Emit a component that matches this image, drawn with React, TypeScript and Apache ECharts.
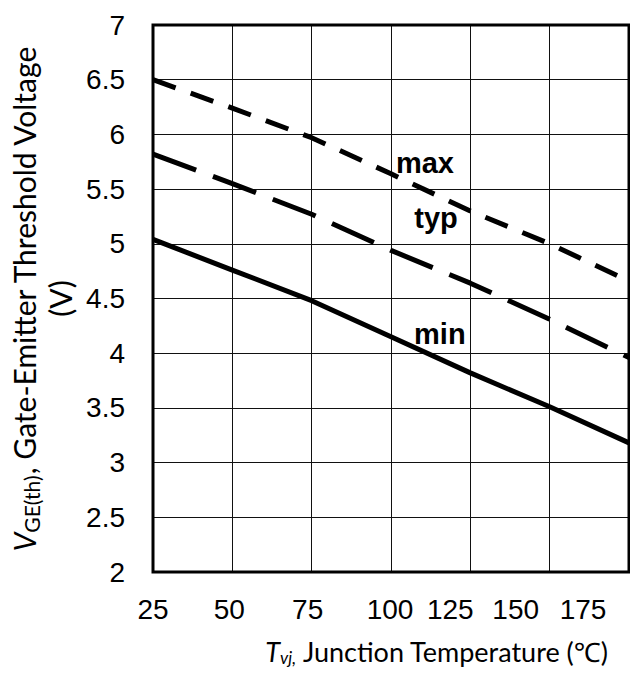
import React, { useEffect, useRef } from "react";
import * as echarts from "echarts";

// Junction temperature (°C)
const temps = [25, 50, 75, 100, 125, 150, 175];
// Gate-emitter threshold voltage (V)
const vMax = [6.5, 6.24, 5.97, 5.64, 5.3, 5.0, 4.66];
const vTyp = [5.82, 5.55, 5.27, 4.94, 4.64, 4.31, 3.96];
const vMin = [5.04, 4.76, 4.48, 4.15, 3.82, 3.51, 3.18];
const xTickLabels = ["25", "50", "75", "100", "125", "150", "175"];
const curveNames = ["max", "typ", "min"];

const X_MIN = 25, X_MAX = 175, X_STEP = 25;
const Y_MIN = 2, Y_MAX = 7, Y_STEP = 0.5;

// horizontal shift of each x tick label (px), as in the reference layout
const xLabelShift = [0, -3, -4, -1, -20, -34, -46];
// label anchors in data coordinates
const labelAnchors: Record<string, [number, number]> = {
  max: [110.7, 5.74],
  typ: [114.2, 5.24],
  min: [115.4, 4.18],
};

const TICK_FONT = "'Liberation Sans', Arial, sans-serif";
const TITLE_FONT = "Lato, 'Noto Sans', sans-serif";

export default function App() {
  const ref = useRef<HTMLDivElement>(null);
  useEffect(() => {
    if (!ref.current) return;
    const chart = echarts.init(ref.current, undefined, { renderer: "svg" });

    const rich: Record<string, any> = {};
    xTickLabels.forEach((_, i) => {
      const s = xLabelShift[i];
      rich["s" + i] = {
        fontSize: 28,
        fontFamily: TICK_FONT,
        color: "#000",
        padding: [0, s < 0 ? -2 * s : 0, 0, s > 0 ? 2 * s : 0],
      };
    });

    const mkSeries = (name: string, vals: number[], dash: any) => ({
      name,
      type: "line",
      data: temps.map((t, i) => [t, vals[i]]),
      showSymbol: false,
      symbol: "none",
      lineStyle: { color: "#000", width: 5, type: dash, cap: "butt" },
      z: 5,
      markPoint: {
        symbol: "circle",
        symbolSize: 0,
        silent: true,
        data: [
          {
            coord: labelAnchors[name],
            label: {
              show: true,
              position: "inside",
              formatter: name,
              fontSize: 29,
              fontWeight: "bold",
              fontFamily: TICK_FONT,
              color: "#000",
            },
          },
        ],
      },
    });

    chart.setOption({
      animation: false,
      backgroundColor: "#fff",
      grid: {
        left: 153,
        right: 1,
        top: 25,
        bottom: 107,
        containLabel: false,
        show: true,
        borderColor: "#000",
        borderWidth: 3,
        backgroundColor: "transparent",
        z: 10,
      },
      xAxis: {
        type: "value",
        min: X_MIN,
        max: X_MAX,
        interval: X_STEP,
        axisLine: { show: false },
        axisTick: { show: false },
        splitLine: { show: true, lineStyle: { color: "#111", width: 1 } },
        axisLabel: {
          margin: 23,
          formatter: (v: number) => {
            const i = temps.indexOf(v);
            return i >= 0 ? `{s${i}|${xTickLabels[i]}}` : "";
          },
          rich,
        },
        name: "{t|T}{s|vj,}{n| Junction Temperature (℃)}",
        nameLocation: "middle",
        nameGap: 64,
        nameTextStyle: {
          padding: [0, 0, 0, 92],
          rich: {
            t: { fontSize: 27, fontStyle: "italic", fontFamily: TITLE_FONT, color: "#000" },
            s: { fontSize: 17, fontStyle: "italic", fontFamily: TITLE_FONT, color: "#000", verticalAlign: "bottom", lineHeight: 30 },
            n: { fontSize: 27, fontFamily: TITLE_FONT, color: "#000" },
          },
        },
      },
      yAxis: {
        type: "value",
        min: Y_MIN,
        max: Y_MAX,
        interval: Y_STEP,
        axisLine: { show: false },
        axisTick: { show: false },
        splitLine: { show: true, lineStyle: { color: "#111", width: 1 } },
        axisLabel: {
          margin: 28,
          fontSize: 28,
          fontFamily: TICK_FONT,
          color: "#000",
        },
        name: "{v|V}{s|GE(th)}{n|, Gate-Emitter Threshold Voltage}\n{n|(V)}",
        nameLocation: "middle",
        nameGap: 65,
        nameTextStyle: {
          align: "center",
          rich: {
            v: { fontSize: 30, fontStyle: "italic", fontFamily: TITLE_FONT, color: "#000", lineHeight: 36 },
            s: { fontSize: 21, fontFamily: TITLE_FONT, color: "#000", verticalAlign: "bottom", lineHeight: 34 },
            n: { fontSize: 30, fontFamily: TITLE_FONT, color: "#000", lineHeight: 36, align: "center" },
          },
        },
      },
      series: [
        mkSeries(curveNames[0], vMax, [24, 16]),
        mkSeries(curveNames[1], vTyp, [46, 18]),
        mkSeries(curveNames[2], vMin, "solid"),
      ],
    });

    return () => chart.dispose();
  }, []);

  return (
    <div
      ref={ref}
      style={{ position: "fixed", left: 0, top: 0, width: 630, height: 679, background: "#fff" }}
    />
  );
}
